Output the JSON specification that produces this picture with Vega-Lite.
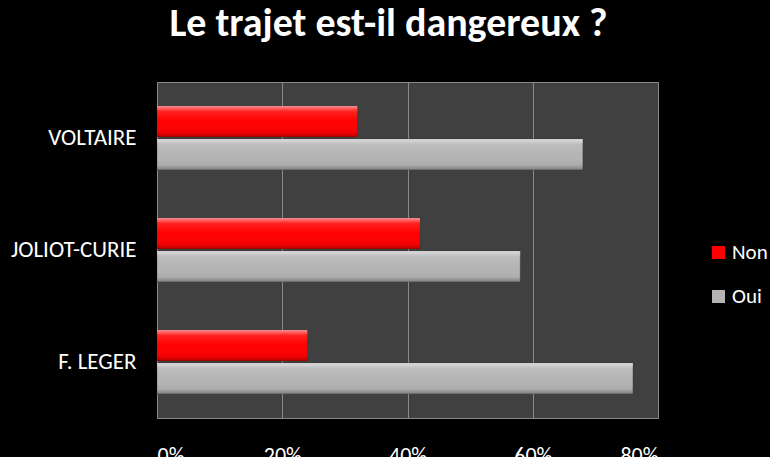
{
  "$schema": "https://vega.github.io/schema/vega-lite/v6.json",
  "width": 501,
  "height": 336,
  "autosize": {"type": "none"},
  "padding": {"left": 157, "top": 82, "right": 112, "bottom": 39},
  "background": "#000000",
  "title": {
    "text": "Le trajet est-il dangereux ?",
    "color": "#ffffff",
    "fontSize": 40,
    "fontWeight": "bold",
    "font": "Carlito, Lato, sans-serif",
    "anchor": "middle",
    "dx": -19,
    "dy": -3,
    "offset": 35
  },
  "config": {
    "view": {"fill": "#404040", "stroke": "#8a8a8a", "strokeWidth": 1},
    "font": "Carlito, Lato, sans-serif",
    "legend": {"labelFontSize": 21, "labelColor": "#ffffff", "labelFont": "Carlito, Lato, sans-serif"}
  },
  "data": {
    "values": [
      {"site": "VOLTAIRE", "reponse": "Non", "value": 0.32},
      {"site": "VOLTAIRE", "reponse": "Oui", "value": 0.68},
      {"site": "JOLIOT-CURIE", "reponse": "Non", "value": 0.42},
      {"site": "JOLIOT-CURIE", "reponse": "Oui", "value": 0.58},
      {"site": "F. LEGER", "reponse": "Non", "value": 0.24},
      {"site": "F. LEGER", "reponse": "Oui", "value": 0.76}
    ]
  },
  "encoding": {
    "y": {
      "field": "site",
      "type": "nominal",
      "sort": ["VOLTAIRE", "JOLIOT-CURIE", "F. LEGER"],
      "scale": {"paddingInner": 0.43, "paddingOuter": 0.215},
      "axis": {
        "title": null,
        "ticks": false,
        "domain": false,
        "labelColor": "#ffffff",
        "labelFontSize": 23,
        "labelPadding": 21,
        "labelFont": "Carlito, Lato, sans-serif"
      }
    },
    "yOffset": {
      "field": "reponse",
      "type": "nominal",
      "sort": ["Non", "Oui"],
      "scale": {"paddingInner": 0.06}
    },
    "x": {
      "field": "value",
      "type": "quantitative",
      "scale": {"domain": [0, 0.8], "nice": false},
      "axis": {
        "title": null,
        "values": [0, 0.2, 0.4, 0.6, 0.8],
        "format": ".0%",
        "grid": true,
        "gridColor": "#8a8a8a",
        "gridOpacity": 1,
        "domain": false,
        "ticks": false,
        "labelColor": "#ffffff",
        "labelFontSize": 22,
        "labelPadding": 27,
        "labelFont": "Carlito, Lato, sans-serif"
      }
    }
  },
  "layer": [
    {
      "mark": {"type": "bar", "stroke": "#333333", "strokeWidth": 0.5, "strokeOpacity": 0.6},
      "encoding": {
        "color": {
          "field": "reponse",
          "type": "nominal",
          "scale": {"domain": ["Non", "Oui"], "range": ["#ff0000", "#b4b4b4"]},
          "legend": {
            "title": null,
            "orient": "none",
            "legendX": 551,
            "legendY": 160,
            "symbolType": "square",
            "symbolSize": 170,
            "symbolStrokeWidth": 0,
            "labelColor": "#ffffff",
            "labelFontSize": 21,
            "labelFont": "Carlito, Lato, sans-serif",
            "labelLimit": 200,
            "rowPadding": 22,
            "labelOffset": 3
          }
        }
      }
    },
    {
      "mark": {
        "type": "bar",
        "fill": {
          "gradient": "linear",
          "x1": 0, "y1": 0, "x2": 0, "y2": 1,
          "stops": [
            {"offset": 0, "color": "rgba(255,255,255,0.55)"},
            {"offset": 0.18, "color": "rgba(255,255,255,0.12)"},
            {"offset": 0.5, "color": "rgba(255,255,255,0)"},
            {"offset": 0.85, "color": "rgba(0,0,0,0.05)"},
            {"offset": 1, "color": "rgba(0,0,0,0.3)"}
          ]
        }
      },
      "encoding": {}
    }
  ]
}
